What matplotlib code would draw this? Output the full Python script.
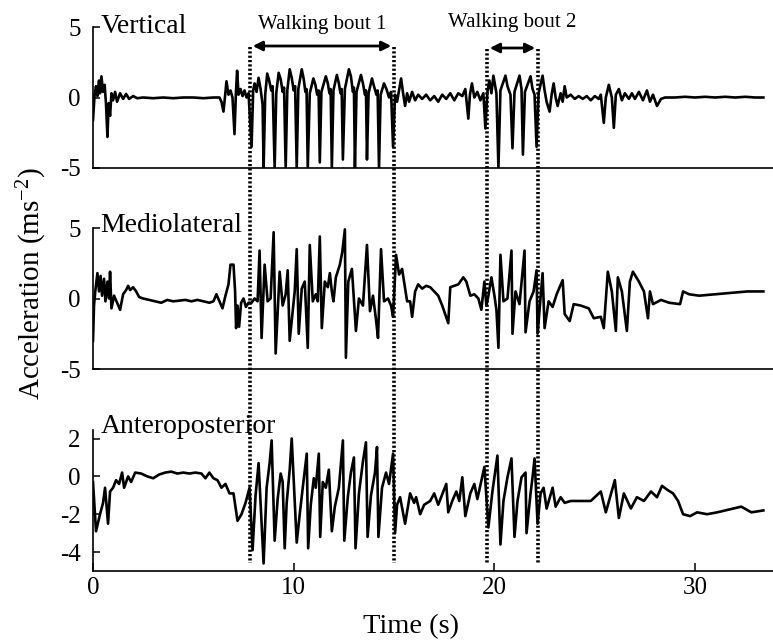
import matplotlib
matplotlib.use("Agg")
import matplotlib.pyplot as plt
import numpy as np
from matplotlib.lines import Line2D
from matplotlib.transforms import blended_transform_factory

plt.rcParams['font.family'] = ['Liberation Serif', 'DejaVu Serif']
plt.rcParams['mathtext.fontset'] = 'custom'
plt.rcParams['mathtext.rm'] = 'Liberation Serif'
plt.rcParams['mathtext.default'] = 'regular'
plt.rcParams['axes.unicode_minus'] = False

# (time s, acceleration ms^-2)
vt_points = [
    (0.0, -1.6), (0.08, 0.2), (0.15, 0.8), (0.22, 0.1), (0.3, 1.2), (0.35, 0.3), (0.42, 1.5),
    (0.5, 0.4), (0.58, 0.9), (0.65, -0.5), (0.72, -2.8), (0.78, -0.4), (0.85, -1.3), (0.92, 0.3),
    (1.0, -0.2), (1.1, 0.4), (1.2, -0.3), (1.35, 0.3), (1.5, -0.1), (1.65, 0.25), (1.8, -0.1),
    (2.0, 0.1), (2.2, -0.05), (2.5, 0.0), (3.0, -0.05), (3.5, 0.0), (4.0, -0.05), (4.5, 0.0),
    (5.0, 0.0), (5.5, -0.05), (6.0, 0.0), (6.3, 0.0), (6.4, -0.3), (6.5, -1.0), (6.58, 0.1),
    (6.65, 1.15), (6.75, 0.2), (6.85, 0.5), (6.95, 0.0), (7.05, -2.6), (7.12, 0.3), (7.18, 1.9),
    (7.25, 0.2), (7.35, 0.6), (7.45, 0.1), (7.55, 0.5), (7.65, 0.0), (7.75, 0.3),
    (7.9, -3.5), (7.98, 0.5), (8.05, 1.0), (8.15, 0.4), (8.25, 1.4), (8.35, 0.6), (8.45, -0.5),
    (8.5, -5.0), (8.58, 0.2), (8.68, 1.7), (8.78, 1.2), (8.88, 0.5), (8.95, 0.8),
    (9.05, -5.0), (9.13, 0.3), (9.25, 1.75), (9.35, 1.3), (9.45, 0.4), (9.52, 0.7),
    (9.6, -5.0), (9.68, 0.5), (9.8, 2.0), (9.9, 1.4), (10.0, 0.5), (10.07, 0.8),
    (10.15, -5.0), (10.23, 0.6), (10.4, 2.0), (10.5, 1.3), (10.58, 0.4), (10.64, 0.6),
    (10.7, -5.0), (10.8, 0.3), (10.98, 1.35), (11.08, 0.9), (11.17, 0.2), (11.24, 0.5),
    (11.3, -4.6), (11.38, 0.4), (11.6, 1.5), (11.7, 1.0), (11.78, 0.3), (11.84, 0.6),
    (11.9, -5.0), (11.98, 0.5), (12.15, 1.6), (12.25, 1.0), (12.33, 0.3), (12.39, 0.6),
    (12.45, -4.4), (12.55, 0.6), (12.75, 2.0), (12.85, 1.5), (12.95, 0.4), (13.0, 0.7),
    (13.05, -5.0), (13.13, 0.4), (13.35, 1.6), (13.45, 1.0), (13.55, 0.2), (13.6, 0.5),
    (13.65, -4.4), (13.73, 0.3), (13.9, 1.35), (14.0, 0.8), (14.12, 0.2), (14.18, 0.5),
    (14.25, -5.0), (14.33, 0.2), (14.5, 1.0), (14.62, 0.6), (14.75, 0.0), (14.85, 0.4),
    (14.95, -3.5), (15.05, 0.2), (15.15, -0.3), (15.35, 1.35), (15.45, 0.3), (15.55, -0.6),
    (15.65, 0.3), (15.75, -0.3), (15.9, 0.4), (16.05, -0.2), (16.2, 0.2), (16.4, -0.1),
    (16.6, 0.2), (16.8, -0.2), (17.0, 0.1), (17.2, -0.3), (17.4, 0.2), (17.6, -0.1),
    (17.8, 0.3), (18.0, -0.2), (18.2, 0.3), (18.4, 0.1), (18.55, 0.6), (18.7, -1.5),
    (18.78, 0.2), (18.88, 1.0), (19.0, 0.0), (19.15, 0.4), (19.3, -0.2), (19.45, 0.3),
    (19.55, -2.2), (19.65, 0.4), (19.75, 1.2), (19.85, 0.3), (19.95, 1.55), (20.1, 0.3),
    (20.2, -5.0), (20.3, 0.5), (20.55, 1.55), (20.65, 0.8), (20.8, 0.2), (20.9, -3.6),
    (21.0, 0.4), (21.25, 1.55), (21.35, 0.6), (21.42, -4.05), (21.52, 0.4), (21.8, 1.5),
    (21.9, 0.6), (22.0, 0.2), (22.1, -3.5), (22.2, 0.3), (22.4, 1.55), (22.5, 0.5),
    (22.6, -0.3), (22.75, -1.0), (22.85, 0.2), (22.95, 1.0), (23.05, 0.0), (23.15, -0.6),
    (23.3, 0.3), (23.4, -0.3), (23.5, 0.8), (23.6, 0.0), (23.8, 0.2), (24.0, -0.1),
    (24.2, 0.1), (24.4, -0.1), (24.6, 0.1), (24.8, -0.2), (25.0, 0.1), (25.2, -0.1),
    (25.3, 0.2), (25.45, -1.8), (25.55, 0.0), (25.7, 0.9), (25.85, 0.0), (25.95, -2.15),
    (26.05, 0.2), (26.2, 0.6), (26.35, -0.2), (26.5, 0.3), (26.7, -0.1), (26.85, 0.3),
    (27.0, -0.1), (27.2, 0.4), (27.4, -0.2), (27.6, 0.5), (27.75, -0.3), (27.9, 0.2),
    (28.1, -0.6), (28.3, -0.1), (28.5, 0.0), (29.0, 0.0), (29.5, 0.05), (30.0, 0.0),
    (30.5, 0.05), (31.0, 0.0), (31.5, 0.05), (32.0, 0.0), (32.5, 0.05), (33.0, 0.0), (33.4, 0.0),
]

ml_points = [
    (0.0, -3.0), (0.05, -0.5), (0.12, 0.6), (0.22, 1.8), (0.3, 0.5), (0.38, 1.6), (0.45, 0.2),
    (0.55, 1.4), (0.62, -0.2), (0.72, 1.2), (0.8, 0.0), (0.85, 1.9), (0.92, -0.7), (1.05, 0.2),
    (1.2, -0.3), (1.35, -0.8), (1.5, 0.3), (1.65, 0.6), (1.75, 0.9), (1.85, 0.6), (2.0, 0.8),
    (2.15, 0.5), (2.3, 0.1), (2.5, 0.0), (2.8, -0.1), (3.1, -0.2), (3.4, -0.3), (3.7, -0.1),
    (4.0, -0.2), (4.3, -0.15), (4.6, -0.1), (4.9, -0.2), (5.2, -0.1), (5.5, -0.2), (5.8, -0.3),
    (6.0, -0.2), (6.15, 0.3), (6.3, -0.2), (6.45, -0.7), (6.6, 0.2), (6.75, 1.0), (6.85, 2.4),
    (7.0, 2.4), (7.08, 0.5), (7.13, -2.1), (7.2, -0.5), (7.28, -2.0), (7.38, -0.3), (7.5, 0.0),
    (7.62, -0.6), (7.75, -0.3), (7.9, -0.3), (8.05, 0.0), (8.2, -0.2), (8.3, 3.4), (8.4, -2.8),
    (8.55, 2.4), (8.7, -0.2), (8.85, 0.0), (9.0, 4.7), (9.1, -3.9), (9.3, 1.9), (9.45, -0.5),
    (9.6, 0.3), (9.7, 2.0), (9.8, -3.0), (9.95, -0.9), (10.05, 0.5), (10.15, 3.5), (10.25, -2.5),
    (10.4, 0.7), (10.55, 1.2), (10.7, -3.5), (10.8, 3.8), (10.95, -0.2), (11.1, 0.3), (11.2, -0.2),
    (11.3, 4.4), (11.4, -2.1), (11.55, 1.2), (11.7, 0.8), (11.8, 1.8), (11.9, 0.5), (11.98, -0.2),
    (12.1, 1.5), (12.3, 2.4), (12.42, 3.3), (12.55, 4.9), (12.6, -4.2), (12.72, 1.2), (12.9, 2.1),
    (13.1, -2.3), (13.25, 0.0), (13.45, -0.5), (13.65, 3.8), (13.8, -0.9), (13.95, 0.2),
    (14.1, -1.5), (14.2, -2.8), (14.35, 3.5), (14.5, -0.2), (14.7, 0.0), (14.85, -0.5),
    (14.95, -1.3), (15.1, 3.1), (15.25, 1.7), (15.4, 2.1), (15.5, 1.2), (15.65, -0.2),
    (15.8, -0.2), (15.9, -1.3), (16.05, 0.5), (16.2, 1.0), (16.4, 0.7), (16.6, 0.9), (16.8, 0.8),
    (17.0, 0.5), (17.2, 0.2), (17.4, -0.5), (17.7, -1.75), (17.8, 0.8), (18.0, 0.9), (18.2, 1.0),
    (18.45, 1.5), (18.6, 1.2), (18.8, 0.2), (19.0, 0.3), (19.2, 0.0), (19.35, -0.8), (19.5, 1.2),
    (19.6, -0.5), (19.7, 0.2), (19.85, 1.5), (20.0, 0.2), (20.1, -0.8), (20.2, -3.5), (20.3, 3.1),
    (20.45, -0.2), (20.65, 0.0), (20.85, 3.4), (20.9, -2.5), (21.05, 0.5), (21.25, -0.4),
    (21.5, 3.4), (21.55, -2.4), (21.75, -0.2), (21.95, 0.5), (22.1, 2.0), (22.15, -2.5),
    (22.4, 1.8), (22.5, -2.1), (22.7, -0.2), (22.9, -0.6), (23.1, 0.3), (23.4, 1.3), (23.5, -1.1),
    (23.75, -1.6), (23.95, -0.4), (24.3, -0.5), (24.7, -0.7), (24.95, -1.4), (25.3, -1.3),
    (25.45, -2.1), (25.65, 1.9), (25.85, 0.5), (26.05, -2.3), (26.15, 1.5), (26.35, 0.5),
    (26.6, -2.3), (26.75, 1.2), (26.9, 1.9), (27.2, 1.2), (27.45, 0.5), (27.65, -1.4),
    (27.75, 0.5), (27.9, -0.4), (28.3, -0.1), (28.7, -0.3), (29.25, -0.4), (29.4, 0.5),
    (29.7, 0.3), (30.2, 0.2), (31.0, 0.3), (31.8, 0.4), (32.6, 0.5), (33.4, 0.5),
]

ap_points = [
    (0.0, -0.3), (0.15, -2.9), (0.35, -2.0), (0.5, -1.4), (0.6, -0.6), (0.75, -2.5), (0.85, -0.8),
    (1.0, -0.6), (1.15, -0.2), (1.3, -0.4), (1.45, 0.2), (1.55, -0.6), (1.75, 0.0), (1.9, -0.3),
    (2.1, 0.2), (2.4, 0.15), (2.7, 0.0), (3.0, -0.1), (3.3, 0.1), (3.6, 0.2), (3.9, 0.25),
    (4.2, 0.15), (4.5, 0.2), (4.8, 0.15), (5.1, 0.2), (5.4, 0.15), (5.6, -0.1), (5.8, 0.2),
    (6.0, -0.1), (6.2, -0.2), (6.4, -0.6), (6.6, -0.4), (6.8, -0.9), (7.0, -0.9), (7.2, -2.35),
    (7.4, -2.0), (7.6, -1.4), (7.8, -0.6), (7.95, -3.9), (8.1, -1.0), (8.25, 0.7), (8.5, -4.6),
    (8.65, -0.6), (8.8, 0.7), (8.9, 1.9), (9.05, -3.4), (9.2, -1.2), (9.35, 0.15), (9.45, -0.3),
    (9.55, -3.8), (9.65, -1.4), (9.8, 0.35), (9.9, 2.0), (10.15, -3.5), (10.3, -2.0),
    (10.45, -0.6), (10.65, 1.2), (10.72, -3.8), (10.85, -1.5), (11.0, -0.1), (11.1, -0.6),
    (11.25, 1.2), (11.32, -3.2), (11.45, -0.3), (11.6, -0.6), (11.75, 0.35), (11.9, -2.9),
    (12.05, -1.6), (12.25, -0.6), (12.45, 1.9), (12.52, -3.4), (12.7, -1.05), (12.85, 0.2),
    (13.0, 1.0), (13.08, -3.8), (13.25, -0.9), (13.45, 0.8), (13.6, 1.8), (13.68, -3.2),
    (13.85, -1.0), (14.05, 0.2), (14.15, 1.55), (14.22, -3.2), (14.4, -0.6), (14.6, 0.2),
    (14.75, -0.4), (14.95, 1.2), (15.05, -3.0), (15.15, -1.5), (15.3, -1.1), (15.55, -2.5),
    (15.8, -0.9), (16.0, -1.4), (16.1, -1.1), (16.3, -2.0), (16.5, -1.5), (16.8, -1.3),
    (17.0, -0.9), (17.2, -1.5), (17.6, -0.4), (17.7, -1.9), (17.9, -1.3), (18.1, -0.8),
    (18.25, -1.3), (18.4, -0.05), (18.55, -2.1), (18.8, -0.9), (19.0, -0.4), (19.15, -1.2),
    (19.5, 0.5), (19.7, -2.7), (19.9, -0.8), (20.15, 1.1), (20.3, -3.6), (20.45, -1.3),
    (20.65, -0.05), (20.85, 0.95), (21.0, -3.2), (21.15, -1.3), (21.35, -0.05), (21.55, 0.2),
    (21.6, -3.0), (21.8, -0.9), (21.9, -0.05), (22.0, 0.95), (22.15, -2.5), (22.3, -0.9),
    (22.45, -0.6), (22.6, -1.7), (22.9, -0.6), (23.05, -1.6), (23.3, -1.1), (23.5, -1.4),
    (23.8, -1.3), (24.3, -1.3), (24.8, -1.3), (25.3, -0.8), (25.55, -1.9), (26.0, -0.2),
    (26.2, -2.2), (26.45, -0.9), (26.8, -1.7), (27.1, -1.1), (27.45, -1.3), (27.8, -0.8),
    (28.1, -1.1), (28.35, -0.5), (28.6, -0.7), (28.9, -0.9), (29.15, -1.3), (29.4, -2.0),
    (29.75, -2.1), (30.1, -1.9), (30.6, -2.0), (31.1, -1.9), (31.9, -1.7), (32.3, -1.6),
    (32.8, -1.9), (33.4, -1.8),
]

panels = ['Vertical', 'Mediolateral', 'Anteroposterior']
panel_ylims = [(-5, 5), (-5, 5), (-5, 2.45)]
panel_yticks = [[-5, 0, 5], [-5, 0, 5], [-4, -2, 0, 2]]
x_ticks = [0, 10, 20, 30]
bout1 = (7.82, 15.0)
bout2 = (19.63, 22.17)

W, H = 773, 644
fig = plt.figure(figsize=(W / 100, H / 100), dpi=100)

# axes boxes in pixel rows (top, bottom)
rows = [(27, 168), (228, 369), (430, 571)]
left_px = 93
axes = []
for (top, bot) in rows:
    ax = fig.add_axes([left_px / W, 1 - bot / H, (W - left_px) / W, (bot - top) / H])
    axes.append(ax)

label_y = [0.955, 0.972, 0.98]
for ax, pts, name, yl, yt, ly in zip(axes, [vt_points, ml_points, ap_points], panels,
                                     panel_ylims, panel_yticks, label_y):
    t, a = np.array(pts).T
    ax.plot(t, a, color='black', lw=1.9)
    ax.set_xlim(0, 33.88)
    ax.set_ylim(*yl)
    ax.set_yticks(yt)
    ax.set_yticklabels([str(v) for v in yt])
    for s in ['top', 'right']:
        ax.spines[s].set_visible(False)
    for s in ['left', 'bottom']:
        ax.spines[s].set_linewidth(1.2)
    ax.tick_params(axis='y', direction='in', length=5, width=1.1, labelsize=18, pad=9)
    ax.tick_params(axis='x', direction='in', length=6, width=1.1, labelsize=18, pad=4)
    ax.text(0.011, ly, name, transform=ax.transAxes, fontsize=20, va='baseline', ha='left')
    ax.patch.set_visible(False)

for ax in axes[:2]:
    ax.tick_params(axis='x', bottom=False, labelbottom=False)
axes[2].set_xticks(x_ticks)
axes[2].set_xticklabels([str(v) for v in x_ticks])

# dotted bout markers spanning all panels
trans = blended_transform_factory(axes[2].transData, fig.transFigure)
for x in [bout1[0], bout1[1], bout2[0], bout2[1]]:
    y_top = 1 - (47 if x in bout1 else 49) / H
    fig.add_artist(Line2D([x, x], [y_top, 1 - 563 / H], transform=trans, color='black',
                          lw=2.6, ls=(0, (0.6, 0.6))))

for (x0, x1), yp, label, ty in [(bout1, 46, 'Walking bout 1', 25), (bout2, 48, 'Walking bout 2', 23)]:
    fig.add_artist(matplotlib.patches.FancyArrowPatch(
        (x0, 1 - yp / H), (x1, 1 - yp / H), transform=trans, arrowstyle='<|-|>',
        mutation_scale=14, lw=2.0, color='black'))
    fig.text((x0 + x1) / 2, 1 - ty / H, label, transform=trans, fontsize=15,
             ha='center', va='center')

fig.text(411 / W, 1 - 627 / H, 'Time (s)', fontsize=20.5, ha='center', va='center')
fig.text(32 / W, 1 - 284 / H, 'Acceleration (ms$^{-2}$)', fontsize=21, rotation=90,
         ha='center', va='center')

fig.savefig('out.png', dpi=100, facecolor='white')
